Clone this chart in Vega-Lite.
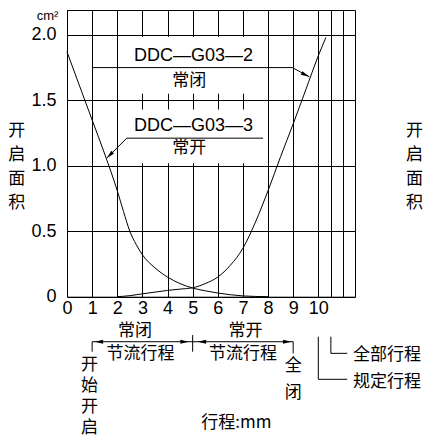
{
  "$schema": "https://vega.github.io/schema/vega-lite/v6.json",
  "width": 288,
  "height": 286.7,
  "autosize": {"type": "none"},
  "padding": {"left": 67, "top": 10, "right": 71, "bottom": 140.3},
  "background": "white",
  "config": {
    "view": {"stroke": "black", "strokeWidth": 1},
    "font": "Liberation Sans"
  },
  "datasets": {
    "curves": [
      {"g": "G03-3", "x": 0, "y": 1.87},
      {"g": "G03-3", "x": 0.5, "y": 1.61},
      {"g": "G03-3", "x": 1, "y": 1.35},
      {"g": "G03-3", "x": 1.5, "y": 1.09},
      {"g": "G03-3", "x": 2, "y": 0.81},
      {"g": "G03-3", "x": 2.25, "y": 0.65},
      {"g": "G03-3", "x": 2.5, "y": 0.5},
      {"g": "G03-3", "x": 2.75, "y": 0.4},
      {"g": "G03-3", "x": 3, "y": 0.32},
      {"g": "G03-3", "x": 3.5, "y": 0.22},
      {"g": "G03-3", "x": 4, "y": 0.15},
      {"g": "G03-3", "x": 4.5, "y": 0.1},
      {"g": "G03-3", "x": 5, "y": 0.066},
      {"g": "G03-3", "x": 5.5, "y": 0.045},
      {"g": "G03-3", "x": 6, "y": 0.028},
      {"g": "G03-3", "x": 6.5, "y": 0.015},
      {"g": "G03-3", "x": 7, "y": 0.006},
      {"g": "G03-3", "x": 7.5, "y": 0.002},
      {"g": "G03-3", "x": 8, "y": 0},
      {"g": "G03-2", "x": 2, "y": 0},
      {"g": "G03-2", "x": 2.5, "y": 0.008},
      {"g": "G03-2", "x": 3, "y": 0.022},
      {"g": "G03-2", "x": 3.5, "y": 0.035},
      {"g": "G03-2", "x": 4, "y": 0.048},
      {"g": "G03-2", "x": 4.5, "y": 0.058},
      {"g": "G03-2", "x": 5, "y": 0.068},
      {"g": "G03-2", "x": 5.5, "y": 0.1},
      {"g": "G03-2", "x": 6, "y": 0.15},
      {"g": "G03-2", "x": 6.5, "y": 0.24},
      {"g": "G03-2", "x": 7, "y": 0.37},
      {"g": "G03-2", "x": 7.5, "y": 0.57},
      {"g": "G03-2", "x": 8, "y": 0.81},
      {"g": "G03-2", "x": 8.5, "y": 1.07},
      {"g": "G03-2", "x": 9, "y": 1.32},
      {"g": "G03-2", "x": 9.5, "y": 1.58},
      {"g": "G03-2", "x": 10, "y": 1.84},
      {"g": "G03-2", "x": 10.3, "y": 1.98}
    ],
    "boxes": [
      {"x": 2.3, "x2": 7.7, "y": 1.55, "y2": 1.985},
      {"x": 2.3, "x2": 7.7, "y": 1.02, "y2": 1.43}
    ],
    "leaders": [
      {"g": "n1", "x": 1, "y": 1.75},
      {"g": "n1", "x": 8.97, "y": 1.75},
      {"g": "n1", "x": 9.64, "y": 1.68},
      {"g": "n2", "x": 1.58, "y": 1.058},
      {"g": "n2", "x": 2.38, "y": 1.211},
      {"g": "n2", "x": 7.8, "y": 1.211}
    ],
    "arrows": [
      {"x": 9.64, "y": 1.68, "a": 116},
      {"x": 1.58, "y": 1.058, "a": 225},
      {"x": 1.1, "y": -0.344, "a": 270},
      {"x": 4.85, "y": -0.344, "a": 90},
      {"x": 5.2, "y": -0.344, "a": 270},
      {"x": 8.93, "y": -0.344, "a": 90}
    ],
    "brackets": [
      {"x": 1, "x2": 9, "y": -0.344, "y2": -0.344},
      {"x": 1, "x2": 1, "y": -0.344, "y2": -0.42},
      {"x": 5, "x2": 5, "y": -0.293, "y2": -0.42},
      {"x": 9, "x2": 9, "y": -0.344, "y2": -0.4326},
      {"x": 10.5, "x2": 10.5, "y": -0.3057, "y2": -0.4326},
      {"x": 10.5, "x2": 11.15, "y": -0.4326, "y2": -0.4326},
      {"x": 10, "x2": 10, "y": -0.3057, "y2": -0.631},
      {"x": 10, "x2": 11.15, "y": -0.631, "y2": -0.631}
    ],
    "latinText": [
      {"t": "DDC—G03—2", "x": 5.03, "y": 1.836},
      {"t": "DDC—G03—3", "x": 5.03, "y": 1.305}
    ],
    "unitText": [
      {"t": "cm²", "x": -0.776, "y": 2.145}
    ],
    "cjkText": [
      {"t": "常闭", "x": 4.86, "y": 1.656},
      {"t": "常开", "x": 4.86, "y": 1.14},
      {"t": "常闭", "x": 2.71, "y": -0.252},
      {"t": "常开", "x": 7.1, "y": -0.252},
      {"t": "节流行程", "x": 2.92, "y": -0.4326},
      {"t": "节流行程", "x": 7.0, "y": -0.4326},
      {"t": "行程:mm", "x": 6.74, "y": -0.955}
    ],
    "cjkLeft": [
      {"t": "全部行程", "x": 11.38, "y": -0.438},
      {"t": "规定行程", "x": 11.38, "y": -0.642}
    ],
    "vStart": [
      {"t": "开\n始\n开\n启", "x": 0.9, "y": -0.4585}
    ],
    "vClose": [
      {"t": "全\n闭", "x": 9.0, "y": -0.4708}
    ],
    "vTitle": [
      {"t": "开\n启\n面\n积", "x": -2.0, "y": 1.3275},
      {"t": "开\n启\n面\n积", "x": 13.83, "y": 1.3275}
    ]
  },
  "encoding": {
    "x": {
      "field": "x",
      "type": "quantitative",
      "scale": {"domain": [0, 11.46], "nice": false, "zero": false},
      "axis": {
        "values": [0, 1, 2, 3, 4, 5, 6, 7, 8, 9, 10, 10.5, 11],
        "labelExpr": "datum.value > 10 ? '' : datum.label",
        "grid": true,
        "gridColor": "black",
        "gridOpacity": 1,
        "gridWidth": 1,
        "ticks": false,
        "domain": false,
        "labelFont": "Liberation Sans",
        "labelFontSize": 18,
        "labelColor": "black",
        "labelPadding": 3,
        "labelFlush": false,
        "labelOverlap": false,
        "title": null
      }
    },
    "y": {
      "field": "y",
      "type": "quantitative",
      "scale": {"domain": [0, 2.19], "nice": false, "zero": false},
      "axis": {
        "values": [0, 0.5, 1, 1.5, 2],
        "labelExpr": "datum.value == 0 ? '0' : format(datum.value, '.1f')",
        "grid": true,
        "gridColor": "black",
        "gridOpacity": 1,
        "gridWidth": 1,
        "ticks": false,
        "domain": false,
        "labelFont": "Liberation Sans",
        "labelFontSize": 18,
        "labelColor": "black",
        "labelPadding": 11,
        "labelFlush": false,
        "labelOverlap": false,
        "title": null
      }
    }
  },
  "layer": [
    {
      "data": {"name": "boxes"},
      "mark": {"type": "rect", "fill": "white", "stroke": null},
      "encoding": {
        "x2": {"field": "x2"},
        "y2": {"field": "y2"}
      }
    },
    {
      "data": {"name": "curves"},
      "mark": {"type": "line", "color": "black", "strokeWidth": 1, "interpolate": "monotone"},
      "encoding": {"detail": {"field": "g", "type": "nominal"}}
    },
    {
      "data": {"name": "leaders"},
      "mark": {"type": "line", "color": "black", "strokeWidth": 1},
      "encoding": {"detail": {"field": "g", "type": "nominal"}}
    },
    {
      "data": {"name": "brackets"},
      "mark": {"type": "rule", "color": "black", "strokeWidth": 1},
      "encoding": {
        "x2": {"field": "x2"},
        "y2": {"field": "y2"}
      }
    },
    {
      "data": {"name": "arrows"},
      "mark": {"type": "point", "filled": true, "color": "black", "opacity": 1, "strokeWidth": 0, "size": 72, "shape": "M0,0L0.45,2L-0.45,2Z"},
      "encoding": {"angle": {"field": "a", "type": "quantitative", "scale": null}}
    },
    {
      "data": {"name": "latinText"},
      "mark": {"type": "text", "font": "Liberation Sans", "fontSize": 18, "color": "black", "align": "center", "baseline": "middle"},
      "encoding": {"text": {"field": "t", "type": "nominal"}}
    },
    {
      "data": {"name": "unitText"},
      "mark": {"type": "text", "font": "Liberation Sans", "fontSize": 13, "color": "black", "align": "center", "baseline": "middle"},
      "encoding": {"text": {"field": "t", "type": "nominal"}}
    },
    {
      "data": {"name": "cjkText"},
      "mark": {"type": "text", "font": "Noto Sans CJK SC", "fontSize": 17, "color": "black", "align": "center", "baseline": "middle", "dy": 1},
      "encoding": {"text": {"field": "t", "type": "nominal"}}
    },
    {
      "data": {"name": "cjkLeft"},
      "mark": {"type": "text", "font": "Noto Sans CJK SC", "fontSize": 17, "color": "black", "align": "left", "baseline": "middle", "dy": 1},
      "encoding": {"text": {"field": "t", "type": "nominal"}}
    },
    {
      "data": {"name": "vStart"},
      "mark": {"type": "text", "font": "Noto Sans CJK SC", "fontSize": 17, "color": "black", "align": "center", "baseline": "top", "lineBreak": "\n", "lineHeight": 21},
      "encoding": {"text": {"field": "t", "type": "nominal"}}
    },
    {
      "data": {"name": "vClose"},
      "mark": {"type": "text", "font": "Noto Sans CJK SC", "fontSize": 17, "color": "black", "align": "center", "baseline": "top", "lineBreak": "\n", "lineHeight": 27},
      "encoding": {"text": {"field": "t", "type": "nominal"}}
    },
    {
      "data": {"name": "vTitle"},
      "mark": {"type": "text", "font": "Noto Sans CJK SC", "fontSize": 17, "color": "black", "align": "center", "baseline": "top", "lineBreak": "\n", "lineHeight": 24},
      "encoding": {"text": {"field": "t", "type": "nominal"}}
    }
  ]
}
